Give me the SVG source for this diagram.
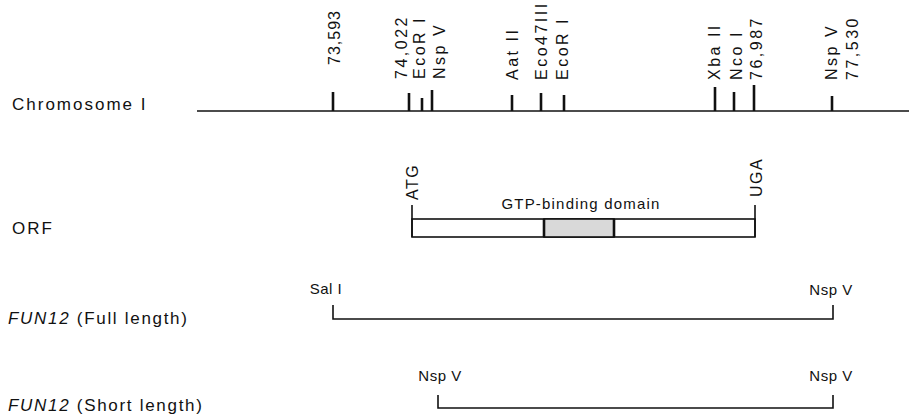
<svg xmlns="http://www.w3.org/2000/svg" width="909" height="420" viewBox="0 0 909 420">
<style>
text{font-family:"Liberation Sans",Arial,sans-serif;fill:#111}
.lbl{font-size:17px}
.rot{font-size:16px;letter-spacing:2.5px}
.sm{font-size:15px}
.tick{stroke:#111;stroke-width:2.6}
.ln{stroke:#111;stroke-width:1.6;fill:none}
</style>
<rect width="909" height="420" fill="#fff"/>
<g id="chromosome">
<text class="lbl" x="12" y="110" style="letter-spacing:2px">Chromosome I</text>
<line class="ln" x1="197" y1="111" x2="909" y2="111" stroke-width="1.8"/>
<line class="tick" x1="333" y1="92" x2="333" y2="111"/>
<line class="tick" x1="409" y1="93" x2="409" y2="111"/>
<line class="tick" x1="422" y1="98" x2="422" y2="111"/>
<line class="tick" x1="432" y1="90" x2="432" y2="111"/>
<line class="tick" x1="512" y1="95" x2="512" y2="111"/>
<line class="tick" x1="541" y1="93" x2="541" y2="111"/>
<line class="tick" x1="564" y1="95" x2="564" y2="111"/>
<line class="tick" x1="715" y1="87" x2="715" y2="111"/>
<line class="tick" x1="734" y1="92" x2="734" y2="111"/>
<line class="tick" x1="754" y1="85" x2="754" y2="111"/>
<line class="tick" x1="832" y1="96" x2="832" y2="111"/>
<text class="rot" transform="translate(340,65) rotate(-90)" style="letter-spacing:1px">73,593</text>
<text class="rot" transform="translate(407,79) rotate(-90)">74,022</text>
<text class="rot" transform="translate(425,79) rotate(-90)">EcoR I</text>
<text class="rot" transform="translate(445,79) rotate(-90)">Nsp V</text>
<text class="rot" transform="translate(518,80) rotate(-90)">Aat II</text>
<text class="rot" transform="translate(547,80) rotate(-90)">Eco47III</text>
<text class="rot" transform="translate(568,80) rotate(-90)">EcoR I</text>
<text class="rot" transform="translate(720,80) rotate(-90)">Xba II</text>
<text class="rot" transform="translate(742,80) rotate(-90)">Nco I</text>
<text class="rot" transform="translate(762,80) rotate(-90)">76,987</text>
<text class="rot" transform="translate(837,80) rotate(-90)">Nsp V</text>
<text class="rot" transform="translate(858,80) rotate(-90)">77,530</text>
</g>
<g id="orf">
<text class="lbl" x="12" y="234" style="letter-spacing:2px">ORF</text>
<rect x="412" y="219" width="343" height="18" fill="#fff" stroke="#111" stroke-width="1.6"/>
<rect x="544" y="219" width="70" height="18" fill="#d9d9d9" stroke="#111" stroke-width="1.6"/>
<line class="tick" x1="544" y1="219" x2="544" y2="237" stroke-width="2.2"/>
<line class="tick" x1="614" y1="219" x2="614" y2="237" stroke-width="2.2"/>
<line class="ln" x1="412" y1="205" x2="412" y2="237"/>
<line class="ln" x1="755" y1="205" x2="755" y2="237"/>
<text class="rot" transform="translate(418,200) rotate(-90)" style="letter-spacing:1.5px">ATG</text>
<text class="rot" transform="translate(762,197) rotate(-90)" style="letter-spacing:1.5px">UGA</text>
<text class="sm" x="581" y="209" text-anchor="middle" style="letter-spacing:1.2px">GTP-binding domain</text>
</g>
<g id="fun12-full">
<text class="lbl" x="8" y="324" style="letter-spacing:1.7px"><tspan font-style="italic">FUN12</tspan> (Full length)</text>
<text class="sm" x="326" y="294" text-anchor="middle" style="letter-spacing:0.5px">Sal I</text>
<text class="sm" x="831" y="295" text-anchor="middle" style="letter-spacing:0.5px">Nsp V</text>
</g>
<g id="fun12-short">
<text class="lbl" x="8" y="411" style="letter-spacing:1.7px"><tspan font-style="italic">FUN12</tspan> (Short length)</text>
<text class="sm" x="440" y="381" text-anchor="middle" style="letter-spacing:0.5px">Nsp V</text>
<text class="sm" x="831" y="381" text-anchor="middle" style="letter-spacing:0.5px">Nsp V</text>
</g>
<g id="connectors">
<polyline class="ln" points="333,305 333,319 833,319 833,305"/>
<polyline class="ln" points="438,395 438,408 833,408 833,395"/>
</g>
</svg>
